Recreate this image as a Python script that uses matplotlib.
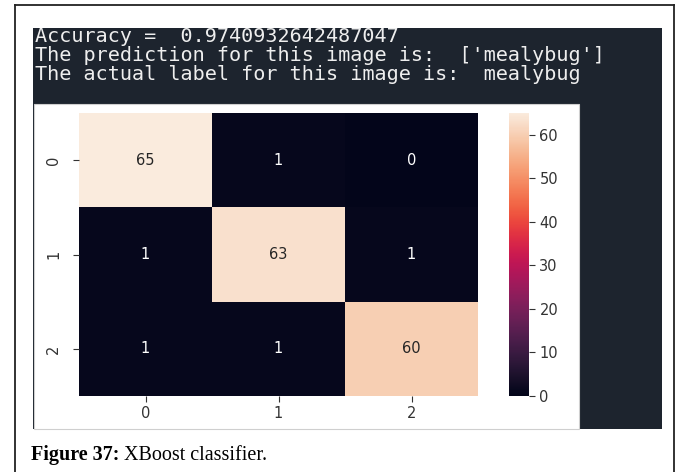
import matplotlib
matplotlib.use("Agg")
import matplotlib.pyplot as plt
import seaborn as sns
import numpy as np
from matplotlib.patches import Rectangle
from matplotlib.lines import Line2D

# ---- data ----
class_labels = ["0", "1", "2"]
row_0 = [65, 1, 0]
row_1 = [1, 63, 1]
row_2 = [1, 1, 60]
cbar_ticks = [0, 10, 20, 30, 40, 50, 60]
accuracy_text = "Accuracy =  0.9740932642487047"
prediction_text = "The prediction for this image is:  ['mealybug']"
actual_text = "The actual label for this image is:  mealybug"
caption_bold = "Figure 37:"
caption_rest = " XBoost classifier."

W, H = 683, 472
fig = plt.figure(figsize=(W / 100, H / 100), dpi=100)
fig.patch.set_facecolor("white")

def fx(x):
    return x / W

def fy(y):
    return 1 - y / H

# outer frame (left, top, right)
for (x0, y0, x1, y1) in [(15, 5, 15, H), (15, 5, 674, 5), (674, 5, 674, H)]:
    fig.add_artist(Line2D([fx(x0), fx(x1)], [fy(y0), fy(y1)], color="#222222",
                          lw=1.3, transform=fig.transFigure))

# dark notebook panel
fig.add_artist(Rectangle((fx(33), fy(429)), fx(662) - fx(33), fy(28) - fy(429),
                         transform=fig.transFigure, facecolor="#1d242e",
                         edgecolor="none", zorder=-3))
# white plot area
fig.add_artist(Rectangle((fx(34), fy(429)), fx(579) - fx(34), fy(104) - fy(429),
                         transform=fig.transFigure, facecolor="white",
                         edgecolor="#cfcfcf", lw=0.8, zorder=-2))

# console text
mono = dict(family="DejaVu Sans Mono", fontsize=14.5, color="#eeeeee",
            va="baseline", ha="left")
fig.text(fx(35), fy(42), accuracy_text, **mono)
fig.text(fx(35), fy(61), prediction_text, **mono)
fig.text(fx(35), fy(80), actual_text, **mono)

# heatmap
cm = np.array([row_0, row_1, row_2])
ax = fig.add_axes([fx(79), fy(396), fx(478) - fx(79), fy(113) - fy(396)])
cax = fig.add_axes([fx(509), fy(396), fx(529) - fx(509), fy(113) - fy(396)])
sns.heatmap(cm, annot=True, fmt="d", cmap="rocket", ax=ax, cbar_ax=cax,
            xticklabels=class_labels, yticklabels=class_labels,
            annot_kws={"fontsize": 10.5})
ax.tick_params(axis="both", labelsize=10.5, colors="#333333", length=4)
ax.tick_params(axis="y", pad=9)
for lab in ax.get_yticklabels():
    lab.set_rotation(90)
    lab.set_va("center")
cax.set_yticks(cbar_ticks)
cax.tick_params(labelsize=10.5, colors="#333333", length=4)

# caption
t1 = fig.text(fx(31), fy(460), caption_bold, family="Liberation Serif",
              fontsize=14.5, fontweight="bold", color="black", va="baseline")
fig.canvas.draw()
bb = t1.get_window_extent()
fig.text(bb.x1 / W, fy(460), caption_rest, family="Liberation Serif",
         fontsize=14.5, color="black", va="baseline")

fig.savefig("out.png", dpi=100, facecolor="white")
